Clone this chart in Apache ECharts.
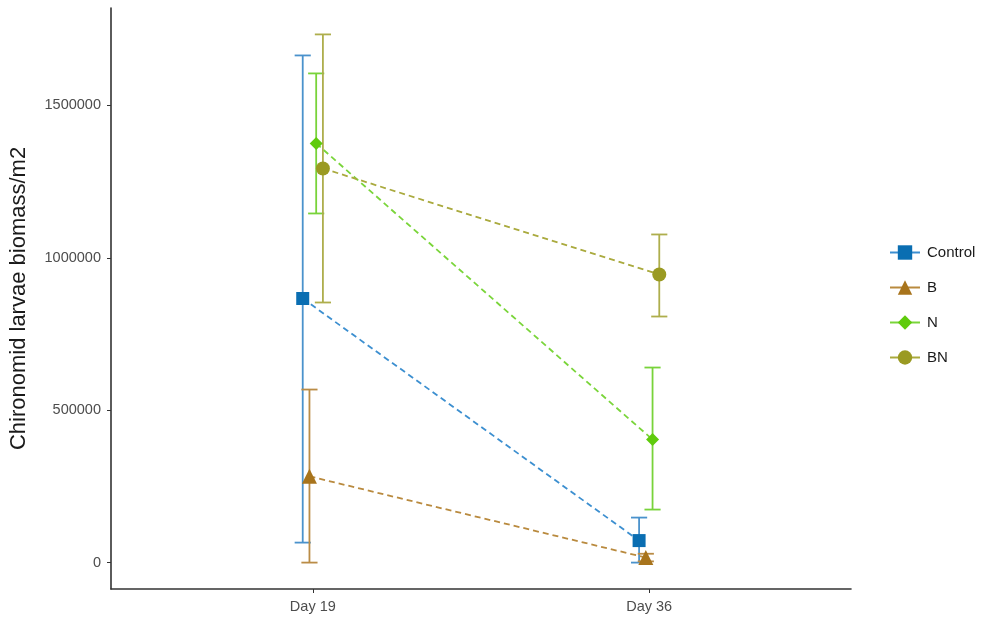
<!DOCTYPE html>
<html>
<head>
<meta charset="utf-8">
<style>
  html, body { margin: 0; padding: 0; background: #ffffff; }
  #chart { width: 982px; height: 621px; }
</style>
<script src="https://cdn.jsdelivr.net/npm/echarts@6/dist/echarts.min.js"></script>
</head>
<body>
<div id="chart"></div>
<script>
// Sampling days (categories on the x axis)
const days = ['Day 19', 'Day 36'];
// Treatment groups
const groups = ['Control', 'B', 'N', 'BN'];

// Mean biomass per m2 for each group, by day
const controlMean = [866500, 72200];
const bMean       = [283000, 16400];
const nMean       = [1375300, 403700];
const bnMean      = [1293200, 945300];

// Lower / upper error bar ends
const controlLow  = [65600, 0];
const controlHigh = [1664000, 147700];
const bLow        = [0, 4000];
const bHigh       = [567800, 29000];
const nLow        = [1145500, 174000];
const nHigh       = [1605000, 640000];
const bnLow       = [853400, 807400];
const bnHigh      = [1733000, 1076600];

// Y axis tick labels
const yTicks = [0, 500000, 1000000, 1500000];

const means = [controlMean, bMean, nMean, bnMean];
const lows  = [controlLow, bLow, nLow, bnLow];
const highs = [controlHigh, bHigh, nHigh, bnHigh];

const colors     = ['#0A6EB2', '#A8741C', '#5FCB0C', '#9A9A22'];
const lineColors = ['#3C8FD0', '#B98A3E', '#7AD53A', '#AAAA3E'];
const barColors  = ['#4A92CC', '#BA8C46', '#78D33A', '#AEAE4C'];
const symbols    = ['rect', 'triangle', 'diamond', 'circle'];
const symbolSizes = [13, 15, 13, 14];
// horizontal dodge of the groups around each day
const dodge = [-0.03, -0.01, 0.01, 0.03];
const capHalf = 0.024;

const series = [];
groups.forEach((g, i) => {
  const errData = days.map((d, k) => [k + 1 + dodge[i], lows[i][k], highs[i][k]]);
  series.push({
    type: 'custom',
    name: g + ' error',
    z: 2,
    silent: true,
    renderItem: function (params, api) {
      const x = api.value(0);
      const lo = api.coord([x, api.value(1)]);
      const hi = api.coord([x, api.value(2)]);
      const l = api.coord([x - capHalf, api.value(1)])[0];
      const r = api.coord([x + capHalf, api.value(1)])[0];
      const style = { stroke: barColors[i], lineWidth: 1.8, fill: null };
      return {
        type: 'group',
        children: [
          { type: 'line', shape: { x1: lo[0], y1: lo[1], x2: hi[0], y2: hi[1] }, style: style },
          { type: 'line', shape: { x1: l, y1: lo[1], x2: r, y2: lo[1] }, style: style },
          { type: 'line', shape: { x1: l, y1: hi[1], x2: r, y2: hi[1] }, style: style }
        ]
      };
    },
    encode: { x: 0, y: [1, 2] },
    data: errData
  });
  series.push({
    type: 'line',
    name: g,
    z: 3,
    data: days.map((d, k) => [k + 1 + dodge[i], means[i][k]]),
    symbol: symbols[i],
    symbolSize: symbolSizes[i],
    showAllSymbol: true,
    itemStyle: { color: colors[i], borderWidth: 0 },
    lineStyle: { color: lineColors[i], width: 1.8, type: [6, 4] }
  });
});

const chart = echarts.init(document.getElementById('chart'), null, { renderer: 'canvas' });
chart.setOption({
  animation: false,
  backgroundColor: '#ffffff',
  textStyle: { fontFamily: 'Liberation Sans, Arial, sans-serif' },
  grid: { left: 111, right: 131, top: 8, bottom: 32, containLabel: false },
  legend: {
    orient: 'vertical',
    left: 884,
    top: 240,
    itemWidth: 30,
    itemHeight: 18,
    itemGap: 20,
    data: groups,
    lineStyle: { type: 'solid', width: 2 },
    textStyle: { fontSize: 15, color: '#1a1a1a', padding: [0, 0, 0, 2] }
  },
  xAxis: {
    type: 'value',
    min: 0.4,
    max: 2.6,
    splitLine: { show: false },
    axisLine: { show: true, onZero: false, lineStyle: { color: '#333333', width: 1.6 } },
    axisTick: { show: true, length: 4, customValues: [1, 2], lineStyle: { color: '#333333', width: 1 } },
    axisLabel: {
      customValues: [1, 2],
      formatter: v => days[Math.round(v) - 1],
      fontSize: 14.5,
      color: '#4d4d4d',
      margin: 10
    }
  },
  yAxis: {
    type: 'value',
    min: -86650,
    max: 1819650,
    name: 'Chironomid larvae biomass/m2',
    nameLocation: 'middle',
    nameGap: 81,
    nameTextStyle: { fontSize: 22, color: '#1a1a1a' },
    splitLine: { show: false },
    axisLine: { show: true, onZero: false, lineStyle: { color: '#333333', width: 1.6 } },
    axisTick: { show: true, length: 4, customValues: yTicks, lineStyle: { color: '#333333', width: 1 } },
    axisLabel: {
      customValues: yTicks,
      formatter: v => String(v),
      fontSize: 14.5,
      color: '#4d4d4d',
      margin: 10
    }
  },
  series: series
});
</script>
</body>
</html>
